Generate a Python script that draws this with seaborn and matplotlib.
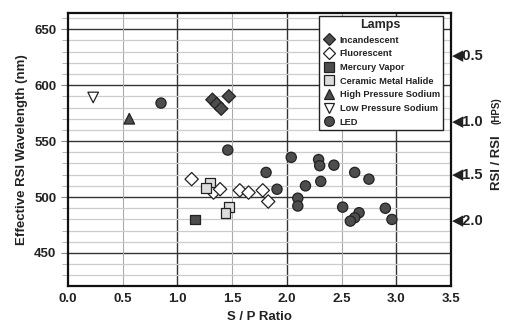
import matplotlib
matplotlib.use("Agg")
import matplotlib.pyplot as plt
import seaborn as sns
import pandas as pd
import numpy as np
from matplotlib.ticker import MultipleLocator

sns.set_style("white")
plt.rcParams['font.family'] = ['Liberation Sans', 'DejaVu Sans']

# ---- data ----
incandescent_x = [1.32, 1.36, 1.40, 1.47]
incandescent_y = [587, 583, 579, 590]
fluorescent_x = [1.13, 1.33, 1.39, 1.57, 1.65, 1.78, 1.83]
fluorescent_y = [516, 504, 507, 506, 504, 506, 496]
mercury_x = [1.16]
mercury_y = [480]
ceramic_x = [1.30, 1.26, 1.47, 1.44]
ceramic_y = [513, 508, 491, 486]
hps_x = [0.56]
hps_y = [570]
lps_x = [0.23]
lps_y = [589]
led_x = [0.85, 1.46, 1.81, 1.91, 2.04, 2.10, 2.10, 2.17, 2.29, 2.30, 2.43, 2.31,
         2.62, 2.75, 2.51, 2.66, 2.62, 2.58, 2.90, 2.96]
led_y = [584, 542, 522, 507, 535.5, 499, 492, 510, 533.5, 528, 528.5, 514,
         522, 516, 491, 486, 481.5, 478.5, 490, 480]

lamp_names = ["Incandescent", "Fluorescent", "Mercury Vapor", "Ceramic Metal Halide",
              "High Pressure Sodium", "Low Pressure Sodium", "LED"]
rsi_ratio_labels = ["0.5", "1.0", "1.5", "2.0"]
rsi_ratio_wavelengths = [628.6, 569.6, 521.4, 481.0]

xs = [incandescent_x, fluorescent_x, mercury_x, ceramic_x, hps_x, lps_x, led_x]
ys = [incandescent_y, fluorescent_y, mercury_y, ceramic_y, hps_y, lps_y, led_y]
rows = []
for name, xx, yy in zip(lamp_names, xs, ys):
    for a, b in zip(xx, yy):
        rows.append({"S / P Ratio": a, "Wavelength": b, "Lamps": name})
df = pd.DataFrame(rows)

dark = "#4d4d4d"
palette = {"Incandescent": dark, "Fluorescent": "#ffffff", "Mercury Vapor": dark,
           "Ceramic Metal Halide": "#dcdcdc", "High Pressure Sodium": dark,
           "Low Pressure Sodium": "#ffffff", "LED": dark}
markers = {"Incandescent": "D", "Fluorescent": "D", "Mercury Vapor": "s",
           "Ceramic Metal Halide": "s", "High Pressure Sodium": "^",
           "Low Pressure Sodium": "v", "LED": "o"}
sizes = {"Incandescent": 46, "Fluorescent": 46, "Mercury Vapor": 48,
         "Ceramic Metal Halide": 48, "High Pressure Sodium": 58,
         "Low Pressure Sodium": 58, "LED": 54}

fig = plt.figure(figsize=(5.2, 3.34), dpi=100)
ax = fig.add_axes([68/520, 1-286/334, 383/520, 273/334])

# grid
ax.set_xlim(0, 3.5)
ax.set_ylim(420.5, 664.5)
ax.yaxis.set_major_locator(MultipleLocator(50))
ax.yaxis.set_minor_locator(MultipleLocator(10))
ax.grid(which="minor", axis="y", color="#cccccc", lw=0.9, zorder=0)
for v in [450, 500, 550, 600, 650]:
    ax.axhline(v, color="#333333", lw=1.0, zorder=0.5)
for v in [0.5, 1.5, 2.5]:
    ax.axvline(v, color="#aaaaaa", lw=0.8, zorder=0.5)
for v in [1.0, 2.0, 3.0]:
    ax.axvline(v, color="#333333", lw=1.0, zorder=0.5)

sns.scatterplot(data=df, x="S / P Ratio", y="Wavelength", hue="Lamps", style="Lamps",
                size="Lamps", sizes=sizes,
                hue_order=lamp_names, style_order=lamp_names, size_order=lamp_names,
                palette=palette, markers=markers, edgecolor="#222222",
                linewidth=0.9, ax=ax, zorder=3, legend=True)

for sp in ax.spines.values():
    sp.set_color("#111111")
    sp.set_linewidth(1.6)

ax.tick_params(axis="y", which="major", left=True, length=5, width=0.8, color="#888888",
               labelsize=9.5)
ax.tick_params(axis="y", which="minor", left=True, length=4, width=0.6, color="#aaaaaa")
ax.tick_params(axis="x", which="major", bottom=True, length=0, labelsize=9.5, pad=5)
for lab in ax.get_yticklabels():
    lab.set_fontweight("bold")
    lab.set_color("#222222")
xt = np.arange(0, 3.51, 0.5)
ax.set_xticks(xt)
ax.set_xticklabels([f"{v:.1f}" for v in xt], fontweight="bold",
                   fontsize=9.5, color="#222222")

ax.set_xlabel("S / P Ratio", fontsize=9.5, fontweight="bold", color="#222222")
ax.set_ylabel("Effective RSI Wavelength (nm)", fontsize=9.5, fontweight="bold",
              color="#222222", labelpad=4)

# legend
handles, labels = ax.get_legend_handles_labels()
leg = ax.legend(handles, labels, title="Lamps", loc="upper right",
                bbox_to_anchor=(0.979, 0.99), borderaxespad=0, frameon=True,
                fancybox=False, edgecolor="#222222", framealpha=1, fontsize=6.7,
                title_fontproperties={"weight": "bold", "size": 9},
                handletextpad=0.3, labelspacing=0.5, borderpad=0.35,
                handlelength=1.6, markerscale=0.95)
leg.get_frame().set_linewidth(1.0)
for t in leg.get_texts():
    t.set_fontweight("bold")
    t.set_color("#222222")

# right-side RSI ratio scale
ax2 = ax.twinx()
ax2.set_ylim(ax.get_ylim())
ax2.set_yticks(rsi_ratio_wavelengths)
ax2.set_yticklabels(["\u25c0" + s for s in rsi_ratio_labels], fontsize=10.5,
                    fontweight="bold", color="#222222",
                    family=["Liberation Sans", "DejaVu Sans"])
ax2.tick_params(axis="y", length=0, pad=1)
for sp in ax2.spines.values():
    sp.set_visible(False)

fig.text(497/520, 1-190/334, "RSI / RSI", rotation=90, ha="center", va="bottom",
         fontsize=9.5, fontweight="bold", color="#222222")
fig.text(497/520, 1-124/334, "(HPS)", rotation=90, ha="center", va="bottom",
         fontsize=7, fontweight="bold", color="#222222")

fig.savefig("out.png", dpi=100)
